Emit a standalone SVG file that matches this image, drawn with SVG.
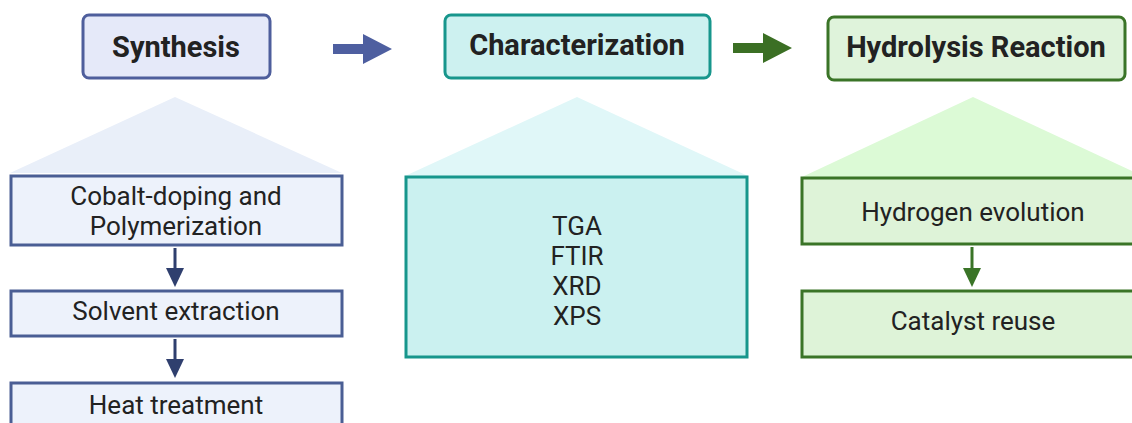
<svg xmlns="http://www.w3.org/2000/svg" width="1132" height="423" viewBox="0 0 1132 423">
<style>
text{font-family:Roboto,"Liberation Sans",sans-serif;fill:#222;text-anchor:middle;dominant-baseline:central}
.h{font-weight:bold;font-size:29px}
.t{font-size:26px}
.b1{fill:#e5e9f9;stroke:#4e5e9c;stroke-width:3}
.b2{fill:#cdf1f0;stroke:#17968c;stroke-width:3}
.b3{fill:#dff3db;stroke:#3a7427;stroke-width:3}
.s1{fill:#edf2fb;stroke:#4a5e94;stroke-width:3}
.s2{fill:#cbf1f0;stroke:#17968c;stroke-width:3}
.s3{fill:#def3d8;stroke:#3a7427;stroke-width:3}
</style>
<rect width="1132" height="423" fill="#fff"/>
<g id="synthesis-head">
<polygon points="175,97 10,173 342,173" fill="#e9eff9"/>
<rect class="b1" x="83" y="15" width="187" height="63" rx="6"/>
<text class="h" x="176" y="47">Synthesis</text>
</g>
<g id="characterization-head">
<polygon points="577,97 405,176 748,176" fill="#e0f7f8"/>
<rect class="b2" x="445" y="15" width="265" height="63" rx="6"/>
<text class="h" x="577" y="45">Characterization</text>
</g>
<g id="hydrolysis-head">
<polygon points="973,97 802,177 1145,177" fill="#dcfad6"/>
<rect class="b3" x="828" y="17" width="297" height="63" rx="6"/>
<text class="h" x="976" y="47">Hydrolysis Reaction</text>
</g>
<g id="cobalt">
<rect class="s1" x="11" y="176" width="331" height="69"/>
<text class="t" x="176" y="196">Cobalt-doping and</text>
<text class="t" x="176" y="226">Polymerization</text>
</g>
<g id="solvent">
<rect class="s1" x="11" y="291" width="331" height="45"/>
<text class="t" x="176" y="311">Solvent extraction</text>
</g>
<g id="heat">
<rect class="s1" x="11" y="383" width="331" height="60"/>
<text class="t" x="176" y="405">Heat treatment</text>
</g>
<g id="techniques">
<rect class="s2" x="406" y="177" width="341" height="180"/>
<text class="t" x="577" y="226">TGA</text>
<text class="t" x="577" y="256">FTIR</text>
<text class="t" x="577" y="286">XRD</text>
<text class="t" x="577" y="316">XPS</text>
</g>
<g id="hydrogen">
<rect class="s3" x="802" y="178" width="340" height="66"/>
<text class="t" x="973" y="212">Hydrogen evolution</text>
</g>
<g id="catalyst">
<rect class="s3" x="802" y="291" width="340" height="66"/>
<text class="t" x="973" y="321">Catalyst reuse</text>
</g>
<g id="connectors">
<polygon points="333,44 363,44 363,34 392,49 363,64 363,54 333,54" fill="#4e5fa0"/>
<polygon points="733,43 763,43 763,33 792,48 763,63 763,53 733,53" fill="#3b6f24"/>
<line x1="175" y1="248" x2="175" y2="270" stroke="#2f3f6e" stroke-width="3"/>
<polygon points="166,268 184,268 175,287" fill="#2f3f6e"/>
<line x1="175" y1="339" x2="175" y2="361" stroke="#2f3f6e" stroke-width="3"/>
<polygon points="166,359 184,359 175,378" fill="#2f3f6e"/>
<line x1="972" y1="247" x2="972" y2="270" stroke="#3a7427" stroke-width="3"/>
<polygon points="963,268 981,268 972,287" fill="#3a7427"/>
</g>
</svg>
